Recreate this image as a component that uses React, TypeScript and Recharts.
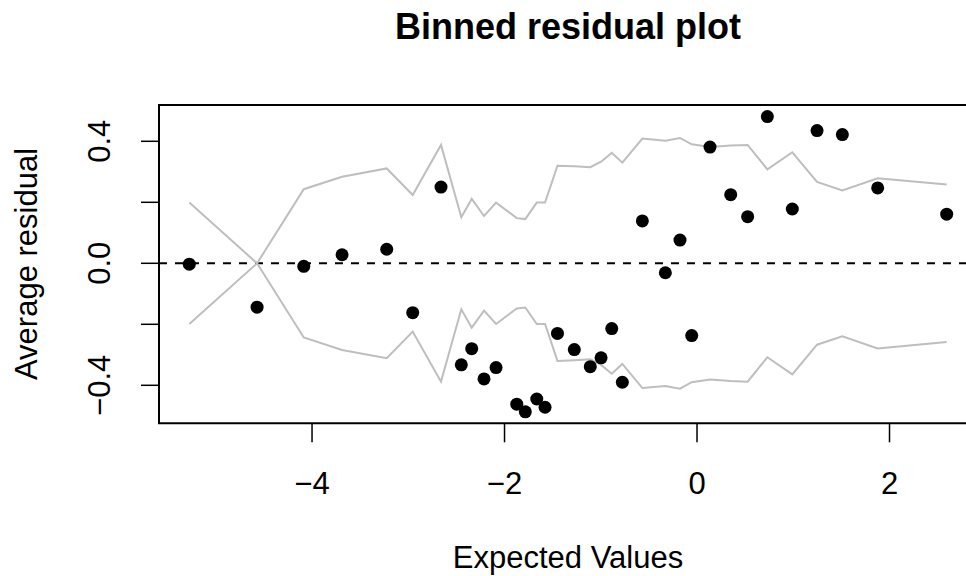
import React from "react";
import {
  ComposedChart,
  Line,
  Scatter,
  XAxis,
  YAxis,
  ReferenceLine,
  ReferenceArea,
} from "recharts";

// binned expected values (x), average residual (y), +/- 2 SE band
const binX = [
  -5.275, -4.571, -4.086, -3.688, -3.224, -2.954, -2.66, -2.449, -2.341, -2.213,
  -2.088, -1.873, -1.784, -1.665, -1.579, -1.45, -1.275, -1.109, -0.997, -0.886,
  -0.776, -0.568, -0.329, -0.177, -0.055, 0.135, 0.35, 0.526, 0.731, 0.99,
  1.247, 1.51, 1.877, 2.594,
];
const binResid = [
  -0.003, -0.144, -0.01, 0.028, 0.046, -0.162, 0.25, -0.333, -0.28, -0.379,
  -0.342, -0.462, -0.487, -0.445, -0.472, -0.23, -0.283, -0.339, -0.31, -0.214,
  -0.39, 0.139, -0.031, 0.076, -0.237, 0.381, 0.225, 0.153, 0.481, 0.178,
  0.435, 0.422, 0.247, 0.161,
];
const binSE2 = [
  0.199, 0, 0.243, 0.284, 0.311, 0.224, 0.388, 0.151, 0.211, 0.155,
  0.199, 0.148, 0.145, 0.199, 0.199, 0.32, 0.318, 0.315, 0.333, 0.362,
  0.33, 0.409, 0.402, 0.411, 0.39, 0.381, 0.386, 0.388, 0.308, 0.364,
  0.267, 0.239, 0.279, 0.258,
];

const xTicks = [-4, -2, 0, 2];
const xTickLabels = ["\u22124", "\u22122", "0", "2"];
const yTicks = [-0.4, -0.2, 0, 0.2, 0.4];
const yTickLabels: Record<string, string> = { "-0.4": "\u22120.4", "0": "0.0", "0.4": "0.4" };

const X_DOMAIN: [number, number] = [-5.59, 2.909];
const Y_DOMAIN: [number, number] = [-0.5246, 0.519];

const rows = binX.map((x, i) => ({
  x,
  y: binResid[i],
  hi: binSE2[i],
  lo: -binSE2[i],
}));

const FONT = '"Liberation Sans", Arial, Helvetica, sans-serif';

const XTick = (props: any) => {
  const idx = xTicks.indexOf(props.payload.value);
  return (
    <text x={props.x} y={props.y + 50} textAnchor="middle" fontFamily={FONT} fontSize={31} fill="#000">
      {xTickLabels[idx]}
    </text>
  );
};

const YTick = (props: any) => {
  const label = yTickLabels[String(props.payload.value)];
  if (!label) return null;
  const bx = props.x - 29;
  return (
    <text
      x={bx}
      y={props.y}
      transform={`rotate(-90, ${bx}, ${props.y})`}
      textAnchor="middle"
      fontFamily={FONT}
      fontSize={31}
      fill="#000"
    >
      {label}
    </text>
  );
};

const Dot = (props: any) => <circle cx={props.cx} cy={props.cy} r={6.5} fill="#000" />;

export default function App() {
  return (
    <div style={{ position: "absolute", left: 0, top: 0, width: 966, height: 576, overflow: "hidden", background: "#fff" }}>
      <ComposedChart
        width={1000}
        height={576}
        data={rows}
        margin={{ top: 105, right: 23, bottom: 92.7, left: 99 }}
      >
        <XAxis
          type="number"
          dataKey="x"
          domain={X_DOMAIN}
          allowDataOverflow
          ticks={xTicks}
          interval={0}
          tick={<XTick />}
          tickSize={19}
          tickLine={{ stroke: "#000", strokeWidth: 1.5 }}
          axisLine={false}
          height={60}
        />
        <YAxis
          type="number"
          domain={Y_DOMAIN}
          allowDataOverflow
          ticks={yTicks}
          interval={0}
          tick={<YTick />}
          tickSize={18}
          tickLine={{ stroke: "#000", strokeWidth: 1.5 }}
          axisLine={false}
          width={60}
        />
        <ReferenceArea
          x1={X_DOMAIN[0]}
          x2={X_DOMAIN[1]}
          y1={Y_DOMAIN[0]}
          y2={Y_DOMAIN[1]}
          fill="none"
          fillOpacity={0}
          stroke="#000"
          strokeWidth={2}
          ifOverflow="visible"
        />
        <ReferenceLine y={0} stroke="#000" strokeWidth={2} strokeDasharray="8 8" />
        <Line type="linear" dataKey="hi" stroke="#bebebe" strokeWidth={2} dot={false} isAnimationActive={false} />
        <Line type="linear" dataKey="lo" stroke="#bebebe" strokeWidth={2} dot={false} isAnimationActive={false} />
        <Scatter data={rows} dataKey="y" shape={<Dot />} isAnimationActive={false} />
      </ComposedChart>
      <svg width={966} height={576} style={{ position: "absolute", left: 0, top: 0, pointerEvents: "none" }}>
        <text x={568} y={39} textAnchor="middle" fontFamily={FONT} fontSize={36} fontWeight="bold" fill="#000">
          Binned residual plot
        </text>
        <text x={568} y={568} textAnchor="middle" fontFamily={FONT} fontSize={31} fill="#000">
          Expected Values
        </text>
        <text
          x={37}
          y={264}
          transform="rotate(-90, 37, 264)"
          textAnchor="middle"
          fontFamily={FONT}
          fontSize={31}
          fill="#000"
        >
          Average residual
        </text>
      </svg>
    </div>
  );
}
